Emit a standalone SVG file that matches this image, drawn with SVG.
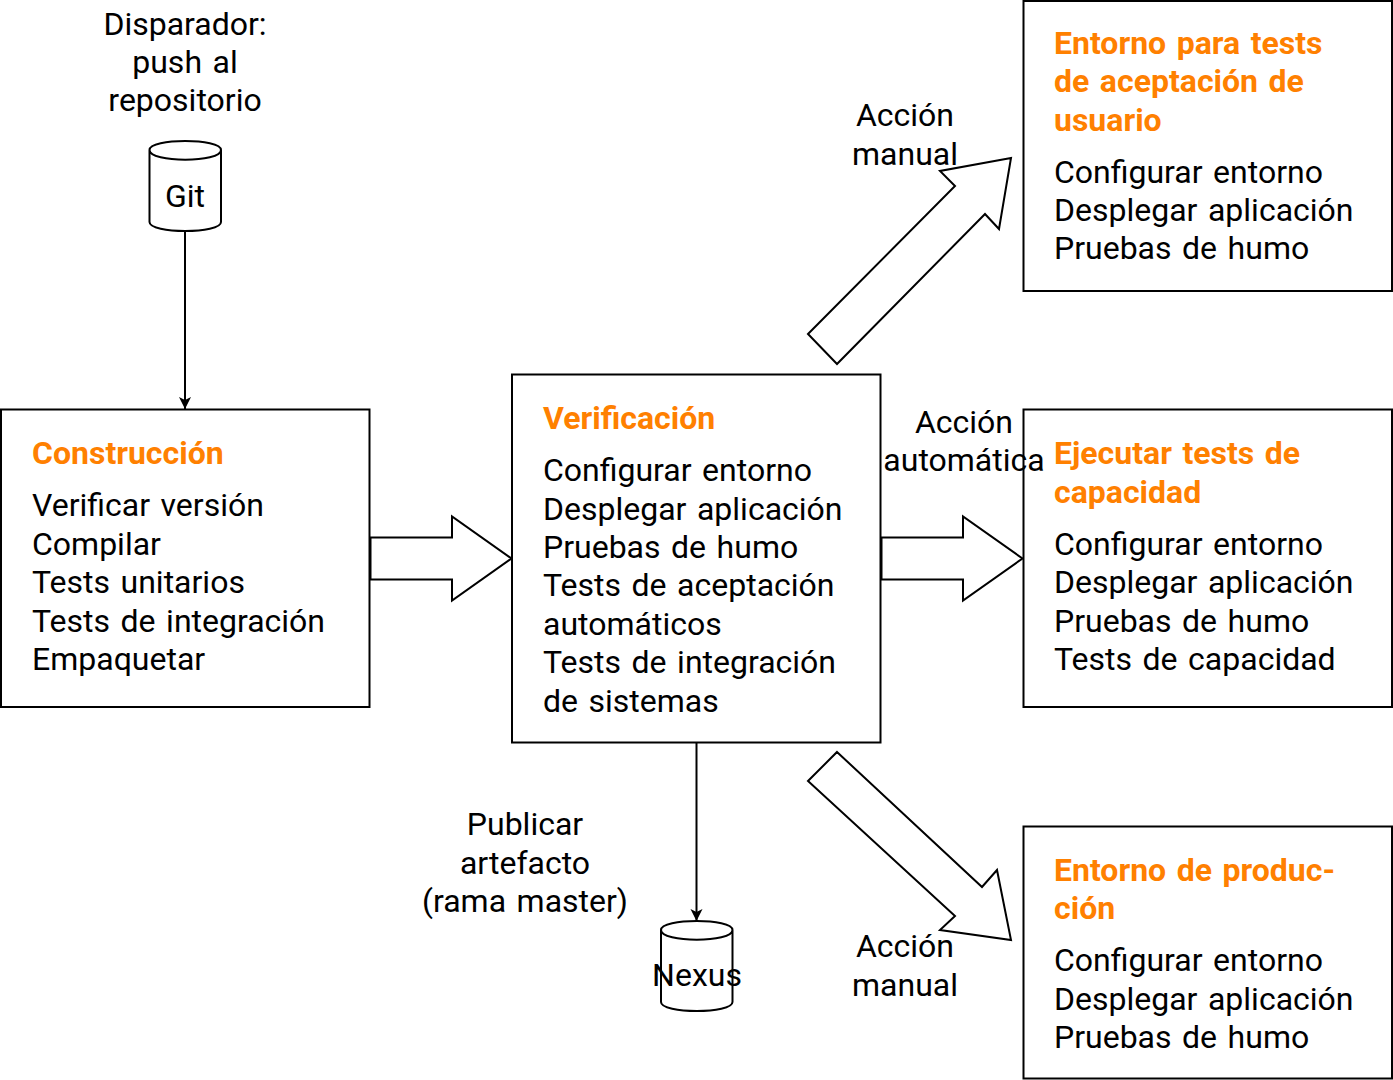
<svg xmlns="http://www.w3.org/2000/svg" width="1393" height="1080" viewBox="0 0 1393 1080">
<style>
text{font-family:Roboto,"Liberation Sans",sans-serif;font-size:32px;fill:#000;word-spacing:2.6px}
.h{fill:#ff8000;font-weight:700}
.m{text-anchor:middle}
.b{fill:#fff;stroke:#000;stroke-width:2}
.c{fill:none;stroke:#000;stroke-width:2}
</style>
<defs><marker id="a" markerWidth="14" markerHeight="14" refX="12" refY="6" orient="auto" markerUnits="userSpaceOnUse"><path d="M0 0L12 6L0 12L3 6Z" fill="#000"/></marker></defs>
<rect width="1393" height="1080" fill="#fff"/>
<g id="connectors">
<path class="c" d="M185 231V409" marker-end="url(#a)"/>
<path class="c" d="M696.500 743V921" marker-end="url(#a)"/>
<path class="b" d="M370.500 537.500H452V516.500L511.500 558.500L452 600.500V579.500H370.500Z"/>
<path class="b" d="M881.500 537.500H963V516.500L1022.500 558.500L963 600.500V579.500H881.500Z"/>
<path class="b" d="M808 334L955 186L940 171L1011 158L999 229L985 214L837 364Z"/>
<path class="b" d="M837 752L982 887L997 870L1011 940L940 930L955 916L808 781Z"/>
</g>
<g id="git"><path class="b" d="M149.500 150V222C149.500 234 221 234 221 222V150C221 138 149.500 138 149.500 150C149.500 163 221 163 221 150"/><text class="m" x="185" y="207">Git</text></g>
<g id="trigger"><text class="m" x="185" y="35">Disparador:</text><text class="m" x="185" y="73">push al</text><text class="m" x="185" y="111">repositorio</text></g>
<g id="build"><rect class="b" x="1" y="409.500" width="368.500" height="297.500"/><text class="h" x="32" y="464">Construcción</text><text x="32" y="516">Verificar versión</text><text x="32" y="555">Compilar</text><text x="32" y="593">Tests unitarios</text><text x="32" y="632">Tests de integración</text><text x="32" y="670">Empaquetar</text></g>
<g id="verify"><rect class="b" x="512" y="374.500" width="368.500" height="368"/><text class="h" x="543" y="429">Verificación</text><text x="543" y="481">Configurar entorno</text><text x="543" y="520">Desplegar aplicación</text><text x="543" y="558">Pruebas de humo</text><text x="543" y="596">Tests de aceptación</text><text x="543" y="635">automáticos</text><text x="543" y="673">Tests de integración</text><text x="543" y="712">de sistemas</text></g>
<g id="uat"><rect class="b" x="1023.500" y="1" width="368.500" height="290"/><text class="h" x="1054" y="54">Entorno para tests</text><text class="h" x="1054" y="92">de aceptación de</text><text class="h" x="1054" y="131">usuario</text><text x="1054" y="183">Configurar entorno</text><text x="1054" y="221">Desplegar aplicación</text><text x="1054" y="259">Pruebas de humo</text></g>
<g id="capacity"><rect class="b" x="1023.500" y="409.500" width="368.500" height="297.500"/><text class="h" x="1054" y="464">Ejecutar tests de</text><text class="h" x="1054" y="503">capacidad</text><text x="1054" y="555">Configurar entorno</text><text x="1054" y="593">Desplegar aplicación</text><text x="1054" y="632">Pruebas de humo</text><text x="1054" y="670">Tests de capacidad</text></g>
<g id="prod"><rect class="b" x="1023.500" y="826.500" width="368.500" height="252"/><text class="h" x="1054" y="881">Entorno de produc-</text><text class="h" x="1054" y="919">ción</text><text x="1054" y="971">Configurar entorno</text><text x="1054" y="1010">Desplegar aplicación</text><text x="1054" y="1048">Pruebas de humo</text></g>
<g id="nexus"><path class="b" d="M661 930V1002C661 1014 732.500 1014 732.500 1002V930C732.500 918 661 918 661 930C661 943 732.500 943 732.500 930"/><text class="m" x="697" y="986">Nexus</text></g>
<g id="labels"><text class="m" x="905" y="126">Acción</text><text class="m" x="905" y="165">manual</text><text class="m" x="964" y="433">Acción</text><text class="m" x="964" y="471">automática</text><text class="m" x="905" y="957">Acción</text><text class="m" x="905" y="996">manual</text><text class="m" x="525" y="835">Publicar</text><text class="m" x="525" y="874">artefacto</text><text class="m" x="525" y="912">(rama master)</text></g>
</svg>
